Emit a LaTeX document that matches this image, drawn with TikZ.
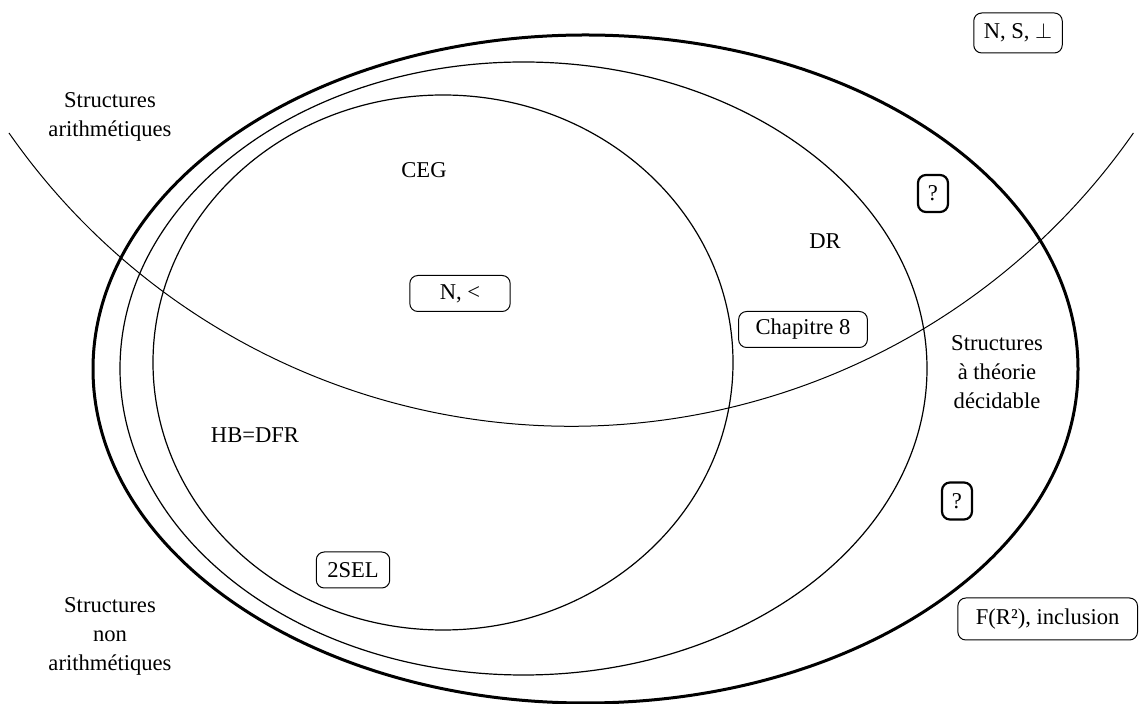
\documentclass[tikz,border=0pt]{standalone}
\usepackage{fontspec}
\setmainfont{Liberation Serif}
\begin{document}
\begin{tikzpicture}[x=0.5pt,y=-0.5pt,
  font=\fontsize{11.3}{14.5}\selectfont,
  bx/.style={draw,rounded corners=4pt,line width=0.5pt,minimum height=18pt,inner xsep=8.5pt},
  qbx/.style={bx,line width=1.1pt,inner xsep=2pt,minimum width=15pt,minimum height=18.5pt},
  lab/.style={align=center}]
  \useasboundingbox (0,0) rectangle (1140,704);
  \draw[line width=1.5pt] (585.5,369) ellipse [x radius=492.5,y radius=334];
  \draw[line width=0.6pt] (523.5,368.5) ellipse [x radius=403.5,y radius=306.5];
  \draw[line width=0.6pt] (443,362.5) ellipse [x radius=290,y radius=267.5];
  \draw[line width=0.5pt] (9,133) arc [start angle=145.1,end angle=34.9,radius=685.5];
  \node[bx,inner xsep=5pt,minimum height=20pt] (ns) at (1018,33) {N, S, $\perp$};
  \node[qbx] (q1) at (933,193.5) {?};
  \node[qbx] (q2) at (957,501) {?};
  \node[bx,inner xsep=15pt] (nlt) at (460,293.5) {N, <};
  \node[bx] (ch8) at (803,329.5) {Chapitre 8};
  \node[bx,inner xsep=5.5pt] (sel) at (353,570) {2SEL};
  \node[bx,anchor=east,inner xsep=9pt,minimum height=21pt] (frr) at (1138,619) {F(R²), inclusion};
  \node (ceg) at (424,170) {CEG};
  \node (dr) at (825,241) {DR};
  \node (hb) at (255,435) {HB=DFR};
  \node[lab] (sa) at (110,117) {Structures\\arithmétiques};
  \node[lab] (sd) at (997,372) {Structures\\à théorie\\décidable};
  \node[lab] (sn) at (110,636) {Structures\\non\\arithmétiques};
\end{tikzpicture}
\end{document}
